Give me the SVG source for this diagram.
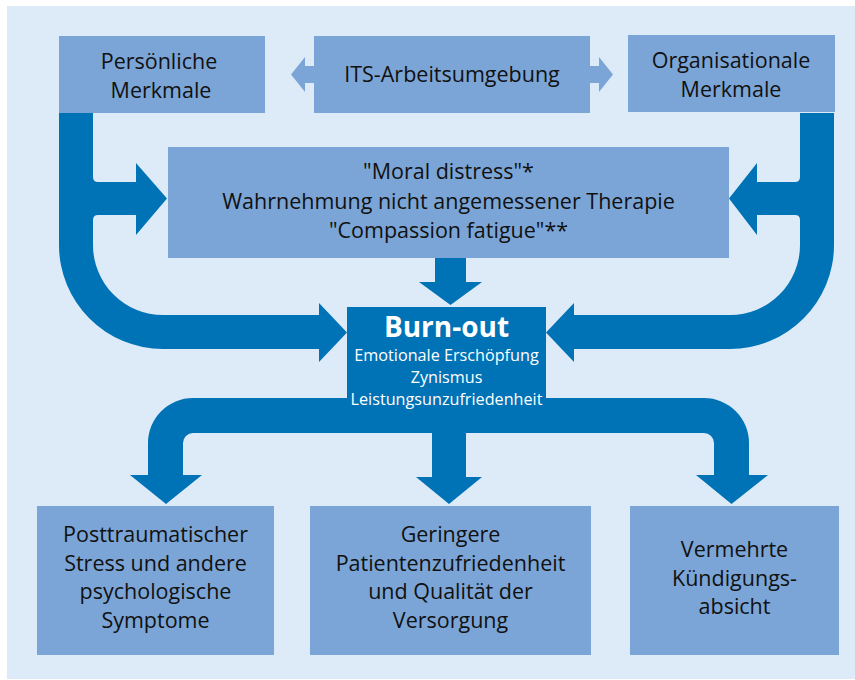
<svg xmlns="http://www.w3.org/2000/svg" width="855" height="680" viewBox="0 0 855 680">
<style>
.bg{fill:#ddebf8}
.box{fill:#7ba5d6}
.dark{fill:#0072b6}
.t{font-family:"Open Sans","Liberation Sans",sans-serif;font-size:21.5px;fill:#111;text-anchor:middle}
.w{font-family:"Open Sans","Liberation Sans",sans-serif;fill:#fff;text-anchor:middle}
.s{font-size:16.2px}
</style>
<rect width="855" height="680" fill="#ffffff"/>
<rect class="bg" x="7" y="6" width="848" height="673"/>
<g id="connectors">
<polygon class="box" points="291,74.5 305,57 305,66 314,66 314,83 305,83 305,92"/>
<polygon class="box" points="590,66 599,66 599,57 613,74.5 599,92 599,83 590,83"/>
<path class="dark" d="M59,113 L93,113 L93,177 Q93,182 98,182 L136,182 L136,163 L167,198.5 L136,235 L136,215 L98,215 Q93,215 93,220 L93,245 A70,70 0 0 0 163,315 L319,315 L319,303 L347,332.5 L319,362 L319,349 L163,349 A104,104 0 0 1 59,245 Z"/>
<path class="dark" d="M834,113 L800,113 L800,177 Q800,182 795,182 L757,182 L757,163 L729,198.5 L757,235 L757,215 L795,215 Q800,215 800,220 L800,245 A70,70 0 0 1 730,315 L574,315 L574,303 L546,332.5 L574,362 L574,349 L730,349 A104,104 0 0 0 834,245 Z"/>
<polygon class="dark" points="435,258 466,258 466,282 482,282 450.5,305 419,282 435,282"/>
<path class="dark" d="M193,398 L704,398 A45,45 0 0 1 749,443 L749,475 L768,475 L731.5,504 L696,475 L714,475 L714,443 A10,10 0 0 0 704,433 L466,433 L466,477 L482,477 L449,504 L416,477 L432,477 L432,433 L193,433 A10,10 0 0 0 183,443 L183,475 L202,475 L166,504 L130,475 L148,475 L148,443 A45,45 0 0 1 193,398 Z"/>
</g>
<g id="persoenliche">
<rect class="box" x="59" y="36" width="206" height="77"/>
<text class="t" x="159" y="69">Persönliche</text>
<text class="t" x="161" y="98">Merkmale</text>
</g>
<g id="its">
<rect class="box" x="314" y="36" width="276" height="77"/>
<text class="t" x="452" y="82">ITS-Arbeitsumgebung</text>
</g>
<g id="organisationale">
<rect class="box" x="628" y="35" width="207" height="77"/>
<text class="t" x="731" y="68">Organisationale</text>
<text class="t" x="731" y="97">Merkmale</text>
</g>
<g id="distress">
<rect class="box" x="168" y="147" width="561" height="111"/>
<text class="t" x="448.5" y="179">"Moral distress"*</text>
<text class="t" x="448.5" y="208.5">Wahrnehmung nicht angemessener Therapie</text>
<text class="t" x="448.5" y="238">"Compassion fatigue"**</text>
</g>
<g id="burnout">
<rect class="dark" x="347" y="307" width="199" height="92"/>
<text class="w" x="446.5" y="337" font-size="28" font-weight="bold">Burn-out</text>
<text class="w s" x="446.5" y="361">Emotionale Erschöpfung</text>
<text class="w s" x="446.5" y="383">Zynismus</text>
<text class="w s" x="446.5" y="405">Leistungsunzufriedenheit</text>
</g>
<g id="stress">
<rect class="box" x="37" y="506" width="237" height="149"/>
<text class="t" x="155.5" y="542">Posttraumatischer</text>
<text class="t" x="155.5" y="570.5">Stress und andere</text>
<text class="t" x="155.5" y="599">psychologische</text>
<text class="t" x="155.5" y="627.5">Symptome</text>
</g>
<g id="patienten">
<rect class="box" x="310" y="506" width="281" height="149"/>
<text class="t" x="450.5" y="542">Geringere</text>
<text class="t" x="450.5" y="570.5">Patientenzufriedenheit</text>
<text class="t" x="450.5" y="599">und Qualität der</text>
<text class="t" x="450.5" y="627.5">Versorgung</text>
</g>
<g id="kuendigung">
<rect class="box" x="630" y="506" width="209" height="149"/>
<text class="t" x="734.5" y="557">Vermehrte</text>
<text class="t" x="734.5" y="585.5">Kündigungs-</text>
<text class="t" x="734.5" y="614">absicht</text>
</g>
</svg>
